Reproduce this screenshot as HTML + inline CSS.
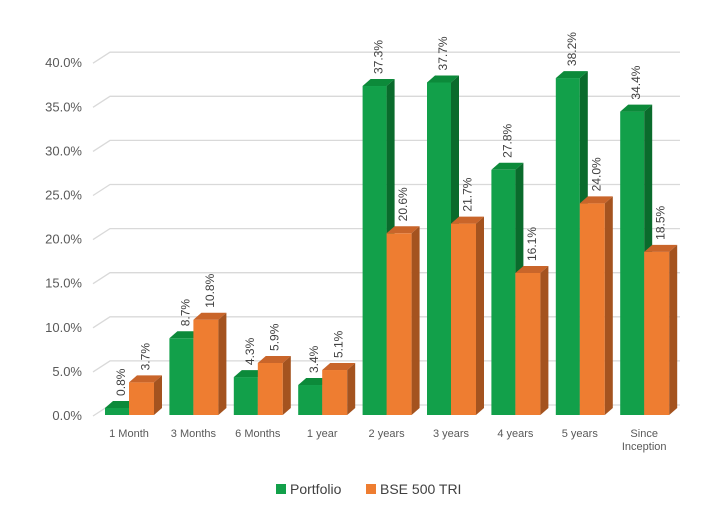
<!DOCTYPE html>
<html><head><meta charset="utf-8"><style>
body{margin:0;background:#fff;font-family:"Liberation Sans",sans-serif}
svg{display:block}
</style></head><body>
<svg id="c" width="724" height="510"></svg>
<script>
const categories=["1 Month","3 Months","6 Months","1 year","2 years","3 years","4 years","5 years","Since Inception"];
const portfolio=[0.8,8.7,4.3,3.4,37.3,37.7,27.8,38.2,34.4];
const benchmark=[3.7,10.8,5.9,5.1,20.6,21.7,16.1,24.0,18.5];
const ticks=[0,5,10,15,20,25,30,35,40];
const NS="http://www.w3.org/2000/svg";
const svg=document.getElementById('c');
function el(t,a,p){const e=document.createElementNS(NS,t);for(const k in a)e.setAttribute(k,a[k]);(p||svg).appendChild(e);return e;}
const y0=415,ppu=8.82,dx=8,dy=-7;
const y=v=>y0-v*ppu;
const xc=i=>129+i*64.4;
// grid
ticks.forEach(t=>{
 const g=el('g',{});
 
 
 el('polyline',{points:`93,${y(t)+1} ${110},${y(t)-10} 680,${y(t)-10}`,fill:'none',stroke:'#d9d9d9','stroke-width':1.3},g);
 const tx=el('text',{x:82,y:y(t)+5,'text-anchor':'end','font-size':13,fill:'#595959'});
 tx.textContent=t.toFixed(1)+'%';
 
 
});
function bar(x,w,v,cf,ct,cs,name){
 const g=el('g',{});
 
 
 const top=y(v);
 el('rect',{x:x,y:top,width:w,height:y0-top,fill:cf},g);
 el('polygon',{points:`${x},${top} ${x+dx},${top+dy} ${x+w+dx},${top+dy} ${x+w},${top}`,fill:ct},g);
 el('polygon',{points:`${x+w},${top} ${x+w+dx},${top+dy} ${x+w+dx},${y0+dy} ${x+w},${y0}`,fill:cs},g);
 const lx=x+w/2+8,ly=top+dy-5;
 const t=el('text',{x:lx,y:ly,transform:`rotate(-90 ${lx} ${ly})`,'font-size':12,fill:'#404040'},g);
 t.textContent=v.toFixed(1)+'%';
 
 
}
categories.forEach((c,i)=>{
 const cx=xc(i);
 bar(cx-24,24,portfolio[i],'#12a04a','#0c8a3a','#0a6b2c','bar-portfolio-'+i);
 bar(cx,25,benchmark[i],'#ee7d31','#c9652a','#a4531f','bar-bse500-'+i);
 const parts=c==="Since Inception"?["Since","Inception"]:[c];
 parts.forEach((p,j)=>{
  const t=el('text',{x:cx+(parts.length>1?0:0),y:437+j*13,'text-anchor':'middle','font-size':11,fill:'#595959'});
  t.textContent=p;
  
  
 });
});
// legend
const lg=el('g',{});


[["Portfolio","#12a04a",276],["BSE 500 TRI","#ee7d31",366]].forEach(([n,c,x])=>{
 const r=el('rect',{x:x,y:484,width:10,height:10,fill:c},lg);
 
 
 const t=el('text',{x:x+14,y:494,'font-size':14,fill:'#404040'},lg);
 t.textContent=n;
 
 
});
</script>
</body></html>
